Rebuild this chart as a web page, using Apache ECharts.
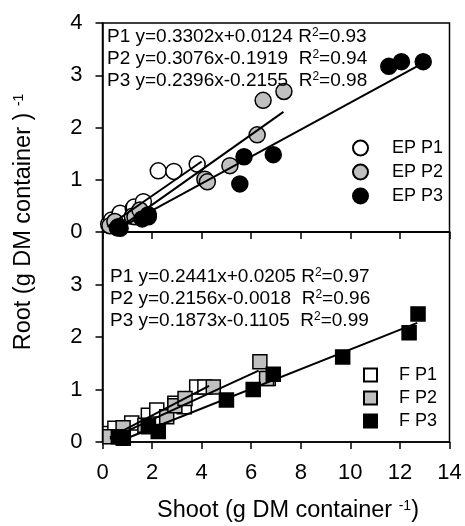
<!DOCTYPE html>
<html><head><meta charset="utf-8">
<script src="https://cdn.jsdelivr.net/npm/echarts/dist/echarts.min.js"></script>
<style>html,body{margin:0;padding:0;background:#fff}#c{width:465px;height:526px}</style>
</head><body><div id="c"></div>
<script>
// ---- data ----
const xTicks = [0, 2, 4, 6, 8, 10, 12, 14];
const yTicksTop = [0, 1, 2, 3, 4];
const yTicksBottom = [0, 1, 2, 3];

// Top panel (EP)
const epP1 = [[0.25,0.15],[0.37,0.23],[0.5,0.2],[0.71,0.36],[1.24,0.45],[1.28,0.48],[1.65,0.58],[2.25,1.17],[2.88,1.16],[3.82,1.30]];
const epP2 = [[0.3,0.12],[0.5,0.2],[1.2,0.3],[1.31,0.29],[1.51,0.42],[4.13,1.01],[4.23,0.96],[5.14,1.27],[6.24,1.86],[6.48,2.52],[7.32,2.69]];
const epP3 = [[0.6,0.08],[0.71,0.07],[0.64,0.1],[1.6,0.25],[1.85,0.33],[1.85,0.29],[5.54,0.92],[5.71,1.44],[6.89,1.48],[11.55,3.17],[12.06,3.26],[12.94,3.26]];
const epFitP1 = [[0.2,0.1],[4.0,1.35]];
const epFitP2 = [[0.6,0.05],[7.3,2.3]];
const epFitP3 = [[0.6,0.05],[12.8,3.2]];

// Bottom panel (F)
const fP1 = [[0.3,0.16],[0.5,0.26],[1.18,0.36],[1.85,0.51],[2.19,0.61],[2.92,0.74],[3.3,0.67],[3.8,1.05],[4.13,1.05],[6.69,1.21]];
const fP2 = [[0.3,0.1],[0.83,0.27],[1.71,0.32],[2.59,0.48],[2.92,0.69],[3.33,0.83],[4.47,1.05],[6.35,1.53],[6.62,1.21]];
const fP3 = [[0.64,0.1],[0.84,0.07],[1.85,0.29],[2.25,0.2],[5.0,0.8],[6.08,1.0],[6.89,1.29],[9.69,1.62],[12.37,2.08],[12.73,2.44]];
const fFitP1 = [[0.3,0.09],[4.3,1.07]];
const fFitP2 = [[0.3,0.06],[6.3,1.36]];
const fFitP3 = [[0.6,0.0],[12.7,2.27]];

// Equation labels: [name, equation, R2]
const eqTop = [['P1','y=0.3302x+0.0124 ','0.93'],['P2','y=0.3076x-0.1919  ','0.94'],['P3','y=0.2396x-0.2155  ','0.98']];
const eqBottom = [['P1','y=0.2441x+0.0205 ','0.97'],['P2','y=0.2156x-0.0018  ','0.96'],['P3','y=0.1873x-0.1105  ','0.99']];

const legendTop = ['EP P1','EP P2','EP P3'];
const legendBottom = ['F P1','F P2','F P3'];
const xTitle = ['Shoot (g DM container ', '-1', ')'];
const yTitle = ['Root (g DM container ) ', '-1'];

// ---- chart ----
const FONT = "'Liberation Sans', Arial, sans-serif";
const fills = ['#ffffff', '#c0c0c0', '#000000'];
const chart = echarts.init(document.getElementById('c'), null, {renderer: 'canvas'});

const GL = 102.5, GW = 347;
function xAxisCfg(gi, showLabels) {
  return {
    type: 'value', gridIndex: gi, min: 0, max: 14, interval: 2,
    axisLine: {show: true, lineStyle: {color: '#000', width: 1.5}},
    axisTick: {show: true, length: 7, lineStyle: {color: '#000', width: 1.5}},
    axisLabel: {show: showLabels, color: '#000', fontSize: 22, fontFamily: FONT, margin: 20,
      formatter: v => xTicks.includes(v) ? String(v) : ''},
    splitLine: {show: false}
  };
}
function yAxisCfg(gi, ticks) {
  return {
    type: 'value', gridIndex: gi, min: 0, max: 4, interval: 1,
    axisLine: {show: true, lineStyle: {color: '#000', width: 1.5}},
    axisTick: {show: true, length: 7, lineStyle: {color: '#000', width: 1.5}},
    axisLabel: {color: '#000', fontSize: 22, fontFamily: FONT, margin: 20,
      formatter: v => ticks.includes(v) ? String(v) : ''},
    splitLine: {show: false}
  };
}
function sc(name, data, gi, symbol, fill, size) {
  return {type: 'scatter', name, data, xAxisIndex: gi, yAxisIndex: gi, symbol, symbolSize: size,
    itemStyle: {color: fill, borderColor: '#000', borderWidth: 1.5, opacity: 1},
    emphasis: {disabled: true}, z: 2};
}
function fit(data, gi) {
  return {type: 'line', data, xAxisIndex: gi, yAxisIndex: gi, symbol: 'none', silent: true,
    lineStyle: {color: '#000', width: 2}, z: 3, emphasis: {disabled: true}};
}
function eqText(eqs, x, y0, dy) {
  return eqs.map((e, i) => ({
    type: 'text', left: x, top: y0 + i * dy - 11, z: 10,
    style: {text: e[0] + ' ' + e[1] + 'R{s|2}=' + e[2], fontSize: 19, fontFamily: FONT, fill: '#000',
      rich: {s: {fontSize: 12, fontFamily: FONT, fill: '#000', verticalAlign: 'top'}}}
  }));
}

const option = {
  animation: false,
  backgroundColor: '#fff',
  grid: [
    {left: GL, top: 23, width: GW, height: 209, show: true, borderColor: '#000', borderWidth: 1.5, backgroundColor: 'transparent'},
    {left: GL, top: 232, width: GW, height: 210, show: true, borderColor: '#000', borderWidth: 1.5, backgroundColor: 'transparent'}
  ],
  xAxis: [xAxisCfg(0, false), xAxisCfg(1, true)],
  yAxis: [yAxisCfg(0, yTicksTop), yAxisCfg(1, yTicksBottom)],
  legend: [
    {data: legendTop, orient: 'vertical', left: 352, top: 139, padding: 0, itemWidth: 15, itemHeight: 15, itemGap: 6,
     textStyle: {fontSize: 18, fontFamily: FONT, color: '#000', lineHeight: 15, padding: [0,0,0,19]}, selectedMode: false},
    {data: legendBottom, orient: 'vertical', left: 363, top: 366, padding: 0, itemWidth: 13, itemHeight: 13, itemGap: 5,
     textStyle: {fontSize: 18, fontFamily: FONT, color: '#000', lineHeight: 13, padding: [0,0,0,17]}, selectedMode: false}
  ],
  series: [
    sc(legendTop[0], epP1, 0, 'circle', fills[0], 16),
    sc(legendTop[1], epP2, 0, 'circle', fills[1], 16),
    sc(legendTop[2], epP3, 0, 'circle', fills[2], 16),
    fit(epFitP1, 0), fit(epFitP2, 0), fit(epFitP3, 0),
    sc(legendBottom[0], fP1, 1, 'rect', fills[0], 14),
    sc(legendBottom[1], fP2, 1, 'rect', fills[1], 14),
    sc(legendBottom[2], fP3, 1, 'rect', fills[2], 14),
    fit(fFitP1, 1), fit(fFitP2, 1), fit(fFitP3, 1)
  ],
  graphic: [
    ...eqText(eqTop, 107, 38, 22),
    ...eqText(eqBottom, 110, 278, 22),
    {type: 'text', x: 288, y: 511, z: 10,
     style: {text: '{a|' + xTitle[0] + '}{s|' + xTitle[1] + '}{a|' + xTitle[2] + '}', align: 'center', verticalAlign: 'middle',
       rich: {a: {fontSize: 23.5, fontFamily: FONT, fill: '#000'}, s: {fontSize: 14, fontFamily: FONT, fill: '#000', verticalAlign: 'top'}}}},
    {type: 'text', x: 24, y: 222, rotation: Math.PI / 2, z: 10,
     style: {text: '{a|' + yTitle[0] + '}{s|' + yTitle[1] + '}', align: 'center', verticalAlign: 'middle',
       rich: {a: {fontSize: 23.5, fontFamily: FONT, fill: '#000'}, s: {fontSize: 14, fontFamily: FONT, fill: '#000', verticalAlign: 'top'}}}}
  ]
};
chart.setOption(option);
</script>
</body></html>
